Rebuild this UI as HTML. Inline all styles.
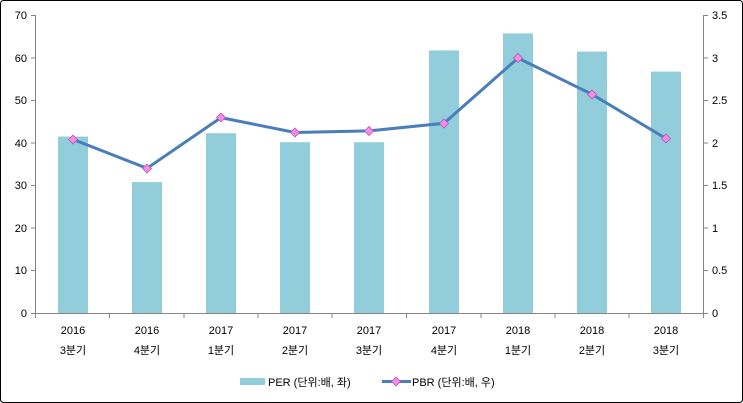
<!DOCTYPE html>
<html><head><meta charset="utf-8"><style>body{margin:0;background:#fff}svg{display:block}text{font-family:"Liberation Sans","Noto Sans CJK KR",sans-serif;font-size:11px;fill:#000}</style></head><body>
<svg width="743" height="403" xmlns="http://www.w3.org/2000/svg">
<rect x="0.5" y="0.5" width="742" height="402" fill="#fff" stroke="#000" rx="3"/>
<g fill="#92CDDC">
<rect x="58" y="136.6" width="30" height="176.4"/>
<rect x="132" y="182.1" width="30" height="130.9"/>
<rect x="206" y="133.2" width="30" height="179.8"/>
<rect x="280" y="142.2" width="30" height="170.8"/>
<rect x="354" y="142.2" width="30" height="170.8"/>
<rect x="429" y="50.4" width="30" height="262.6"/>
<rect x="503" y="33.4" width="30" height="279.6"/>
<rect x="577" y="51.6" width="30" height="261.4"/>
<rect x="651" y="71.6" width="30" height="241.4"/>
</g>
<g stroke="#868686" stroke-width="1">
<line x1="35.5" y1="15" x2="35.5" y2="313"/>
<line x1="703.5" y1="15" x2="703.5" y2="313"/>
<line x1="35" y1="313.5" x2="704" y2="313.5"/>
<path d="M31 15.5h4M31 58h4M31 100.5h4M31 143h4M31 185.5h4M31 228h4M31 270.5h4M31 313.5h4"/>
<path d="M704 15.5h4M704 58h4M704 100.5h4M704 143h4M704 185.5h4M704 228h4M704 270.5h4M704 313.5h4"/>
<path d="M35.5 313v5M109.5 313v5M184 313v5M258 313v5M332 313v5M406.5 313v5M481 313v5M555 313v5M629 313v5M703.5 313v5"/>
</g>
<g text-anchor="end">
<text x="27" y="19">70</text><text x="27" y="62">60</text><text x="27" y="104">50</text><text x="27" y="147">40</text><text x="27" y="189">30</text><text x="27" y="232">20</text><text x="27" y="274">10</text><text x="27" y="317">0</text>
</g>
<g>
<text x="712" y="19">3.5</text><text x="712" y="62">3</text><text x="712" y="104">2.5</text><text x="712" y="147">2</text><text x="712" y="189">1.5</text><text x="712" y="232">1</text><text x="712" y="274">0.5</text><text x="712" y="317">0</text>
</g>
<g text-anchor="middle">
<text x="73" y="334">2016</text><text x="73" y="354">3분기</text>
<text x="147" y="334">2016</text><text x="147" y="354">4분기</text>
<text x="221" y="334">2017</text><text x="221" y="354">1분기</text>
<text x="295" y="334">2017</text><text x="295" y="354">2분기</text>
<text x="369" y="334">2017</text><text x="369" y="354">3분기</text>
<text x="444" y="334">2017</text><text x="444" y="354">4분기</text>
<text x="518" y="334">2018</text><text x="518" y="354">1분기</text>
<text x="592" y="334">2018</text><text x="592" y="354">2분기</text>
<text x="666" y="334">2018</text><text x="666" y="354">3분기</text>
</g>
<polyline fill="none" stroke="#4A7EBB" stroke-width="3" points="73,139.4 147,168.3 221,117.6 295,132.5 369,130.9 444,123.3 518,58 592,94.3 666,138.5"/>
<g fill="#F58CE6" stroke="#B65AB0" stroke-width="0.8">
<path d="M73 135l4.5 4.5-4.5 4.5-4.5-4.5z"/>
<path d="M147 164l4.5 4.5-4.5 4.5-4.5-4.5z"/>
<path d="M221 113l4.5 4.5-4.5 4.5-4.5-4.5z"/>
<path d="M295 128l4.5 4.5-4.5 4.5-4.5-4.5z"/>
<path d="M369 126.5l4.5 4.5-4.5 4.5-4.5-4.5z"/>
<path d="M444 119l4.5 4.5-4.5 4.5-4.5-4.5z"/>
<path d="M518 53.5l4.5 4.5-4.5 4.5-4.5-4.5z"/>
<path d="M592 90l4.5 4.5-4.5 4.5-4.5-4.5z"/>
<path d="M666 134l4.5 4.5-4.5 4.5-4.5-4.5z"/>
</g>
<rect x="240" y="378" width="25" height="7" fill="#92CDDC"/>
<text x="268" y="386">PER (단위:배, 좌)</text>
<line x1="382" y1="381.5" x2="411" y2="381.5" stroke="#4A7EBB" stroke-width="3"/>
<path d="M396 377l4.5 4.5-4.5 4.5-4.5-4.5z" fill="#F58CE6" stroke="#B65AB0" stroke-width="0.8"/>
<text x="412" y="386">PBR (단위:배, 우)</text>
</svg>
</body></html>
